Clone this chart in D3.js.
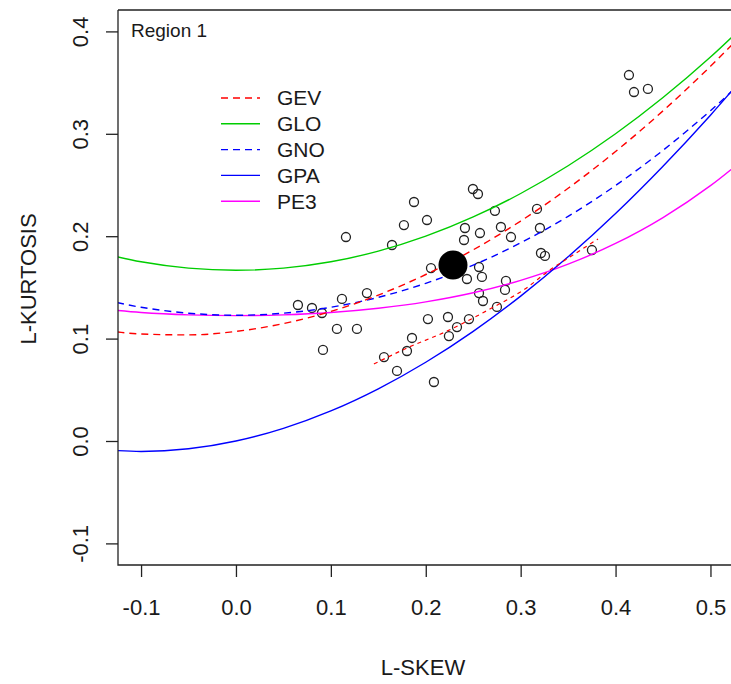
<!DOCTYPE html>
<html>
<head>
<meta charset="utf-8">
<script src="https://cdn.jsdelivr.net/npm/d3@7"></script>
<style>
  body { margin: 0; background: #fff; }
  text { font-family: Arial, "Liberation Sans", sans-serif; fill: #1a1a1a; }
</style>
</head>
<body>
<svg id="chart" width="731" height="684"></svg>
<script>
// L-skewness grid on which the theoretical curves are tabulated
const skewGrid = [-0.15, -0.10, -0.05, 0.00, 0.05, 0.10, 0.15, 0.20, 0.25, 0.30, 0.35, 0.40, 0.45, 0.50, 0.55];
// L-kurtosis of each distribution along skewGrid
const gevKurt = [0.1097, 0.1045, 0.1036, 0.1070, 0.1147, 0.1265, 0.1425, 0.1626, 0.1867, 0.2148, 0.2468, 0.2827, 0.3224, 0.3659, 0.4130];
const gloKurt = [0.1854, 0.1750, 0.1688, 0.1667, 0.1688, 0.1750, 0.1854, 0.2000, 0.2188, 0.2417, 0.2688, 0.3000, 0.3354, 0.3750, 0.4188];
const gnoKurt = [0.1403, 0.1306, 0.1248, 0.1228, 0.1248, 0.1306, 0.1403, 0.1540, 0.1717, 0.1935, 0.2194, 0.2495, 0.2839, 0.3226, 0.3657];
const gpaKurt = [-0.0077, -0.0102, -0.0076, 0.0000, 0.0124, 0.0294, 0.0510, 0.0769, 0.1071, 0.1415, 0.1799, 0.2222, 0.2684, 0.3182, 0.3716];
const pe3Kurt = [0.1297, 0.1255, 0.1232, 0.1224, 0.1232, 0.1255, 0.1297, 0.1359, 0.1448, 0.1569, 0.1727, 0.1929, 0.2182, 0.2494, 0.2869];

// Second GEV trace (dashed, lower right)
const gevAltSkew = [0.1454, 0.1802, 0.2202, 0.2676, 0.3045, 0.3309, 0.3551, 0.3815];
const gevAltKurt = [0.0752, 0.0908, 0.1064, 0.1289, 0.1484, 0.1670, 0.1816, 0.1973];

// At-site L-moment ratios
const siteSkew = [0.1876, 0.1770, 0.2013, 0.1159, 0.1644, 0.2055, 0.2497, 0.2550, 0.2729, 0.3172,
                  0.2413, 0.2571, 0.2792, 0.2403, 0.2898, 0.3203, 0.3214, 0.3256, 0.3751, 0.2561,
                  0.2434, 0.2592, 0.2845, 0.2835, 0.0653, 0.0801, 0.0906, 0.1117, 0.1380, 0.1064,
                  0.1275, 0.0917, 0.2023, 0.2234, 0.1855, 0.1802, 0.1560, 0.1697, 0.2086, 0.2455,
                  0.2329, 0.2244, 0.2561, 0.2603, 0.2750, 0.4141, 0.4194, 0.4341];
const siteKurt = [0.2334, 0.2109, 0.2158, 0.1992, 0.1914, 0.1689, 0.2461, 0.2412, 0.2248, 0.2266,
                  0.2080, 0.2031, 0.2090, 0.1963, 0.1992, 0.2080, 0.1836, 0.1807, 0.1865, 0.1699,
                  0.1582, 0.1602, 0.1563, 0.1475, 0.1328, 0.1299, 0.1250, 0.1387, 0.1445, 0.1094,
                  0.1094, 0.0889, 0.1191, 0.1211, 0.1006, 0.0879, 0.0820, 0.0684, 0.0576, 0.1191,
                  0.1113, 0.1025, 0.1445, 0.1367, 0.1309, 0.3574, 0.3408, 0.3438];

// Regional average
const regionalSkew = [0.2287];
const regionalKurt = [0.1719];

// Axis ticks
const xTicks = [-0.1, 0.0, 0.1, 0.2, 0.3, 0.4, 0.5];
const yTicks = [-0.1, 0.0, 0.1, 0.2, 0.3, 0.4];

// Legend entries
const legendNames = ["GEV", "GLO", "GNO", "GPA", "PE3"];
const legendColors = ["#ff0000", "#00cd00", "#0000ff", "#0000ff", "#ff00ff"];
const legendDashes = ["7,5", null, "7,5", null, null];

const svg = d3.select("#chart");
const plot = { left: 118, top: 10, right: 760, bottom: 565 };

const x = d3.scaleLinear().domain([-0.1243, 0.5522]).range([plot.left, plot.right]);
const y = d3.scaleLinear().domain([-0.1211, 0.4209]).range([plot.bottom, plot.top]);

svg.append("defs").append("clipPath").attr("id", "plotClip")
  .append("rect")
  .attr("x", plot.left).attr("y", plot.top)
  .attr("width", plot.right - plot.left).attr("height", plot.bottom - plot.top);

const body = svg.append("g").attr("clip-path", "url(#plotClip)");

const line = d3.line().curve(d3.curveMonotoneX);

function drawCurve(xs, ys, color, dash, width) {
  body.append("path")
    .attr("d", line(xs.map((s, i) => [x(s), y(ys[i])])))
    .attr("fill", "none")
    .attr("stroke", color)
    .attr("stroke-width", width)
    .attr("stroke-dasharray", dash);
}

// Site points
body.selectAll("circle.site")
  .data(siteSkew.map((s, i) => [s, siteKurt[i]]))
  .join("circle")
  .attr("class", "site")
  .attr("cx", d => x(d[0]))
  .attr("cy", d => y(d[1]))
  .attr("r", 4.5)
  .attr("fill", "none")
  .attr("stroke", "#222")
  .attr("stroke-width", 1.3);

// Theoretical curves
drawCurve(skewGrid, gloKurt, legendColors[1], null, 1.4);
drawCurve(skewGrid, pe3Kurt, legendColors[4], null, 1.4);
drawCurve(skewGrid, gpaKurt, legendColors[3], null, 1.4);
drawCurve(skewGrid, gnoKurt, legendColors[2], "7,5", 1.4);
drawCurve(skewGrid, gevKurt, legendColors[0], "7,5", 1.4);
drawCurve(gevAltSkew, gevAltKurt, legendColors[0], "4,4", 1.2);

// Regional average point
body.selectAll("circle.regional")
  .data(regionalSkew.map((s, i) => [s, regionalKurt[i]]))
  .join("circle")
  .attr("class", "regional")
  .attr("cx", d => x(d[0]))
  .attr("cy", d => y(d[1]))
  .attr("r", 14.5)
  .attr("fill", "#000");

// Plot frame (left, top, bottom)
const frame = svg.append("g").attr("stroke", "#222").attr("stroke-width", 1.3).attr("fill", "none");
frame.append("path").attr("d", `M${plot.left},${plot.top}V${plot.bottom}H731M${plot.left},${plot.top}H731`);

// X axis
const fmt = d => d.toFixed(1);
const xAxis = svg.append("g")
  .attr("transform", `translate(0,${plot.bottom})`)
  .call(d3.axisBottom(x).tickValues(xTicks).tickSize(12).tickPadding(22).tickFormat(fmt));
xAxis.select(".domain").remove();
xAxis.selectAll("line").attr("stroke", "#222").attr("stroke-width", 1.3);
xAxis.selectAll("text").attr("font-size", 22).attr("fill", "#1a1a1a")
  .style("font-family", 'Arial, "Liberation Sans", sans-serif');

// Y axis with labels parallel to the axis
const yAxis = svg.append("g")
  .attr("transform", `translate(${plot.left},0)`)
  .call(d3.axisLeft(y).tickValues(yTicks).tickSize(12).tickFormat(fmt));
yAxis.select(".domain").remove();
yAxis.selectAll("line").attr("stroke", "#222").attr("stroke-width", 1.3);
yAxis.selectAll("text")
  .attr("x", 0).attr("dy", "0.35em")
  .attr("transform", "translate(-38,0) rotate(-90)")
  .attr("text-anchor", "middle")
  .attr("font-size", 22).attr("fill", "#1a1a1a")
  .style("font-family", 'Arial, "Liberation Sans", sans-serif');

// Axis titles
svg.append("text")
  .attr("x", 423).attr("y", 667).attr("dy", "0.35em")
  .attr("text-anchor", "middle").attr("font-size", 22)
  .text("L-SKEW");
svg.append("text")
  .attr("transform", "translate(28,279) rotate(-90)")
  .attr("dy", "0.35em")
  .attr("text-anchor", "middle").attr("font-size", 22)
  .text("L-KURTOSIS");

// Region label
svg.append("text")
  .attr("x", 131).attr("y", 37)
  .attr("font-size", 19)
  .text("Region 1");

// Legend
const legend = svg.append("g").attr("transform", "translate(221,98)");
const rows = legend.selectAll("g")
  .data(legendNames.map((n, i) => ({ name: n, color: legendColors[i], dash: legendDashes[i] })))
  .join("g")
  .attr("transform", (d, i) => `translate(0,${i * 25.8})`);
rows.append("line")
  .attr("x1", 0).attr("x2", 39).attr("y1", 0).attr("y2", 0)
  .attr("stroke", d => d.color)
  .attr("stroke-width", 1.4)
  .attr("stroke-dasharray", d => d.dash);
rows.append("text")
  .attr("x", 56).attr("dy", "0.35em")
  .attr("font-size", 21)
  .text(d => d.name);
</script>
</body>
</html>
